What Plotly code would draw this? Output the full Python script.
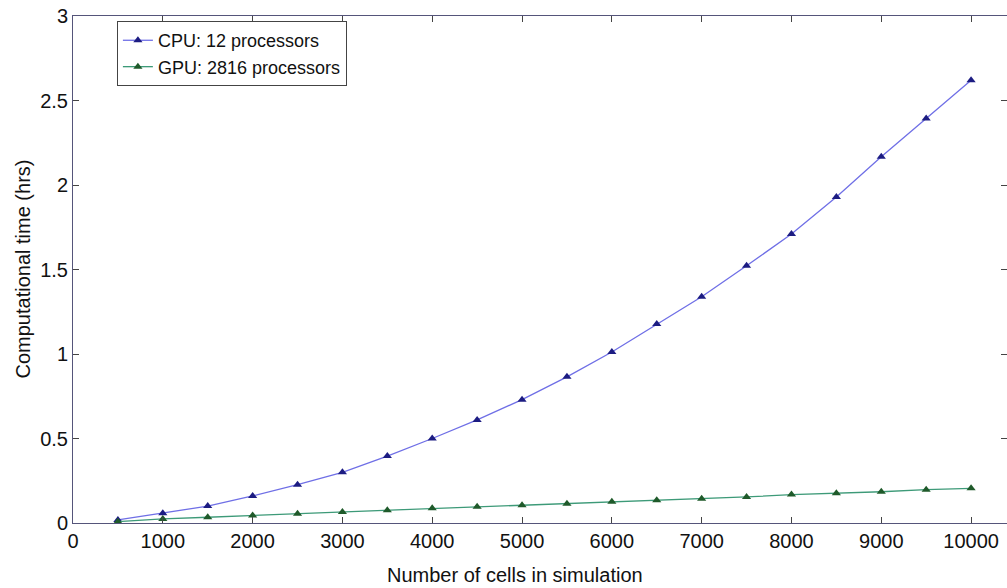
import plotly.graph_objects as go

cells = [500, 1000, 1500, 2000, 2500, 3000, 3500, 4000, 4500, 5000,
         5500, 6000, 6500, 7000, 7500, 8000, 8500, 9000, 9500, 10000]
cpu_hrs = [0.018, 0.057, 0.10, 0.16, 0.227, 0.30, 0.396, 0.50, 0.61, 0.73,
           0.865, 1.012, 1.178, 1.339, 1.522, 1.71, 1.929, 2.167, 2.394, 2.62]
gpu_hrs = [0.008, 0.024, 0.034, 0.045, 0.055, 0.065, 0.075, 0.087, 0.096, 0.105,
           0.114, 0.126, 0.134, 0.144, 0.154, 0.168, 0.176, 0.185, 0.197, 0.205]
x_ticks = [0, 1000, 2000, 3000, 4000, 5000, 6000, 7000, 8000, 9000, 10000]
x_ticklabels = [str(v) for v in x_ticks]
y_ticks = [0, 0.5, 1, 1.5, 2, 2.5, 3]
y_ticklabels = ["0", "0.5", "1", "1.5", "2", "2.5", "3"]

FONT = "Liberation Sans, Arial, sans-serif"

fig = go.Figure()
fig.add_trace(go.Scatter(
    x=cells, y=cpu_hrs, mode="lines+markers", name="CPU: 12 processors",
    line=dict(color="#6f6fe6", width=1.3),
    marker=dict(symbol="triangle-up", size=8, color="#1c1c82"),
))
fig.add_trace(go.Scatter(
    x=cells, y=gpu_hrs, mode="lines+markers", name="GPU: 2816 processors",
    line=dict(color="#3d9a78", width=1.3),
    marker=dict(symbol="triangle-up", size=8, color="#1f5a2a"),
))

axis_common = dict(
    showgrid=False, zeroline=False, showline=True, linecolor="#55557a",
    linewidth=1, mirror="ticks", ticks="inside", ticklen=6, tickcolor="#444",
    tickfont=dict(family=FONT, size=20, color="#111"),
)

fig.update_layout(
    width=1007, height=588,
    margin=dict(l=73, r=0, t=16, b=65),
    paper_bgcolor="white", plot_bgcolor="white",
    font=dict(family=FONT, size=19, color="#111"),
    xaxis=dict(range=[0, 10400], tickvals=x_ticks, ticktext=x_ticklabels,
               **axis_common),
    yaxis=dict(range=[0, 3], tickvals=y_ticks, ticktext=y_ticklabels,
               **axis_common),
    legend=dict(x=0.047, y=0.99, xanchor="left", yanchor="top",
                bgcolor="white", bordercolor="#444", borderwidth=1,
                font=dict(size=18), tracegroupgap=0, itemwidth=30),
    annotations=[
        dict(text="Number of cells in simulation", xref="paper", yref="paper",
             x=0.473, y=-0.1026, xanchor="center", yanchor="middle",
             showarrow=False, font=dict(family=FONT, size=20, color="#111")),
        dict(text="Computational time (hrs)", xref="paper", yref="paper",
             x=-0.0546, y=0.5, xanchor="center", yanchor="middle",
             textangle=-90, showarrow=False,
             font=dict(family=FONT, size=20, color="#111")),
    ],
)

fig.write_html("out.html")
